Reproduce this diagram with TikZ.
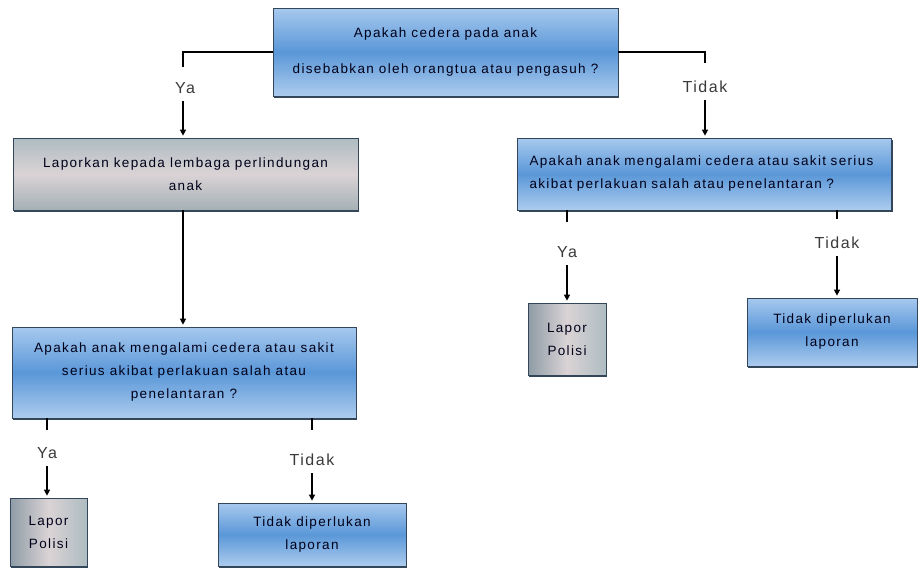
\documentclass[tikz,border=0pt]{standalone}
\usepackage{fontspec}
\setmainfont{Liberation Sans}[LetterSpace=10]
\usetikzlibrary{arrows.meta,shadows}
\definecolor{blueTop}{HTML}{A7C9EE}
\definecolor{blueMid}{HTML}{5A97D8}
\definecolor{blueBot}{HTML}{ADCCEE}
\definecolor{grayTop}{HTML}{AEBCC1}
\definecolor{grayMid}{HTML}{DAD3D5}
\definecolor{grayBot}{HTML}{A5B0B5}
\definecolor{grayLeft}{HTML}{8E9CA6}
\definecolor{edge}{HTML}{34465A}
\definecolor{lblcol}{HTML}{3A3A3A}
\begin{document}
\begin{tikzpicture}[x=1pt,y=-1pt,
  boxbase/.style={draw=edge,line width=0.7pt,inner sep=0pt,
    font=\fontsize{13.5}{23}\selectfont,text=black!90!blue,
    drop shadow={shadow xshift=1.2pt,shadow yshift=-2pt,fill=edge,opacity=1}},
  bluebox/.style={boxbase,top color=blueTop,bottom color=blueBot,middle color=blueMid},
  graybox/.style={boxbase,top color=grayTop,bottom color=grayBot,middle color=grayMid},
  smallgray/.style={boxbase,left color=grayLeft,right color=grayTop,middle color=grayMid},
  lbl/.style={font=\fontsize{16}{18}\selectfont,text=lblcol,inner sep=0pt},
  conn/.style={line width=1.3pt,black},
  arr/.style={conn,-{Triangle[length=6pt,width=6pt]},shorten <=7pt,shorten >=2pt}
]
\useasboundingbox[fill=white] (0,0) rectangle (920,570);

% boxes
\node[bluebox,minimum width=345,minimum height=88,align=center] (top) at (445.5,52)
  {Apakah cedera pada anak\\[13pt] disebabkan oleh orangtua atau pengasuh ?};
\node[graybox,minimum width=345,minimum height=72,align=center] (gray) at (185.5,174)
  {Laporkan kepada lembaga perlindungan\\ anak};
\node[bluebox,minimum width=373,minimum height=72,text width=350,inner xsep=12pt,align=left] (rbox) at (704.5,174)
  {Apakah anak mengalami cedera atau sakit serius\\ akibat perlakuan salah atau penelantaran ?};
\node[bluebox,minimum width=344,minimum height=91,align=center] (low) at (184,372.5)
  {Apakah anak mengalami cedera atau sakit\\ serius akibat perlakuan salah atau\\ penelantaran ?};
\node[smallgray,minimum width=77,minimum height=68,align=center] (lapL) at (48.5,532)
  {Lapor\\ Polisi};
\node[bluebox,minimum width=188,minimum height=63,align=center] (tidL) at (312,534.5)
  {Tidak diperlukan\\ laporan};
\node[smallgray,minimum width=78,minimum height=72,align=center] (lapR) at (567,339)
  {Lapor\\ Polisi};
\node[bluebox,minimum width=170,minimum height=68,align=center] (tidR) at (832,332)
  {Tidak diperlukan\\ laporan};

% labels
\node[lbl] (yaT) at (185,88) {Ya};
\node[lbl] (tdT) at (705,87) {Tidak};
\node[lbl] (yaR) at (567,252) {Ya};
\node[lbl] (tdR) at (837,243) {Tidak};
\node[lbl] (yaL) at (47,453) {Ya};
\node[lbl] (tdL) at (312,460) {Tidak};

% elbow / tick ends
\coordinate (k1) at (183,67);
\coordinate (k2) at (705,63);
\coordinate (k3) at (567,222);
\coordinate (k4) at (837,219);
\coordinate (k5) at (47,430);
\coordinate (k6) at (312,430);

\draw[conn] (top.west) -| (k1);
\draw[conn] (top.east) -| (k2);
\draw[arr] (k1 |- yaT.south) -- (k1 |- gray.north);
\draw[arr] (tdT.south) -- (tdT.south |- rbox.north);

\draw[conn] (rbox.south -| k3) -- (k3);
\draw[conn] (rbox.south -| k4) -- (k4);
\draw[arr] (yaR.south) -- (yaR.south |- lapR.north);
\draw[arr] (tdR.south) -- (tdR.south |- tidR.north);

\draw[conn,-{Triangle[length=6pt,width=6pt]},shorten >=2pt] (k1 |- gray.south) -- (k1 |- low.north);

\draw[conn] (low.south -| k5) -- (k5);
\draw[conn] (low.south -| k6) -- (k6);
\draw[arr] (yaL.south) -- (yaL.south |- lapL.north);
\draw[arr] (tdL.south) -- (tdL.south |- tidL.north);
\end{tikzpicture}
\end{document}
